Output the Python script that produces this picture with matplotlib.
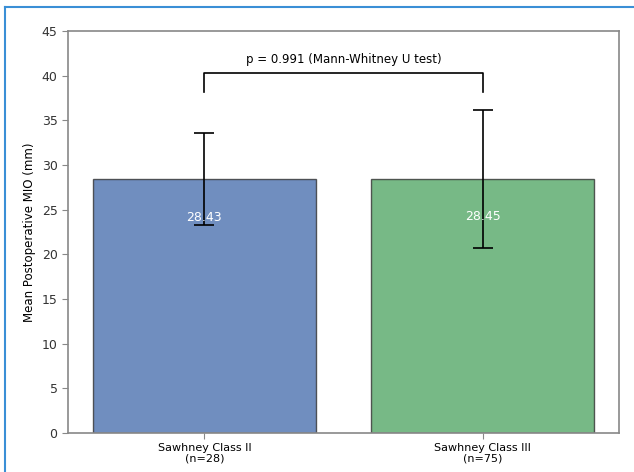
import numpy as np
import matplotlib.pyplot as plt
from matplotlib.lines import Line2D

groups = ['Sawhney Class II\n(n=28)', 'Sawhney Class III\n(n=75)']
means = [28.43, 28.45]
sds = [5.1, 7.7]
colors = ['#4c72b0', '#55a868']
p_text = 'p = 0.991 (Mann-Whitney U test)'

fig = plt.figure(figsize=(6.34, 4.72), dpi=100)
ax = fig.add_axes([68/634, 1 - 433/472, (619-68)/634, (433-31)/472])

x = np.arange(len(groups))
bars = ax.bar(x, means, width=0.8, color=colors, alpha=0.8,
              edgecolor='#333333', linewidth=1)
ax.errorbar(x, means, yerr=sds, fmt='none', ecolor='black',
            elinewidth=1.2, capsize=7.5, capthick=1.2)

for xi, m in zip(x, means):
    ax.text(xi, m * 0.85, f'{m:.2f}', ha='center', va='center',
            color='white', fontsize=9)

# significance bracket
y_top, y_bot = 40.3, 38.2
ax.plot([x[0], x[0], x[1], x[1]], [y_bot, y_top, y_top, y_bot],
        color='black', lw=1.2)
ax.text((x[0] + x[1]) / 2, 41.1, p_text, ha='center', va='bottom', fontsize=8.5)

ax.set_ylim(0, 45)
ax.set_yticks(range(0, 46, 5))
ax.set_xticks(x)
ax.set_xticklabels(groups, fontsize=8, linespacing=0.95)
ax.tick_params(axis='y', labelsize=9, colors='#333333')
ax.tick_params(axis='both', color='#888888', length=4)
ax.set_ylabel('Mean Postoperative MIO (mm)', fontsize=8.5)
for s in ax.spines.values():
    s.set_color('#888888')
    s.set_linewidth(1.2)

# blue frame around the figure (top and left edges)
fig.add_artist(Line2D([5/634, 1], [1 - 7/472, 1 - 7/472], color='#3a8fd6', lw=1.5))
fig.add_artist(Line2D([5/634, 5/634], [0, 1 - 7/472], color='#3a8fd6', lw=1.5))

fig.savefig('out.png', dpi=100)
